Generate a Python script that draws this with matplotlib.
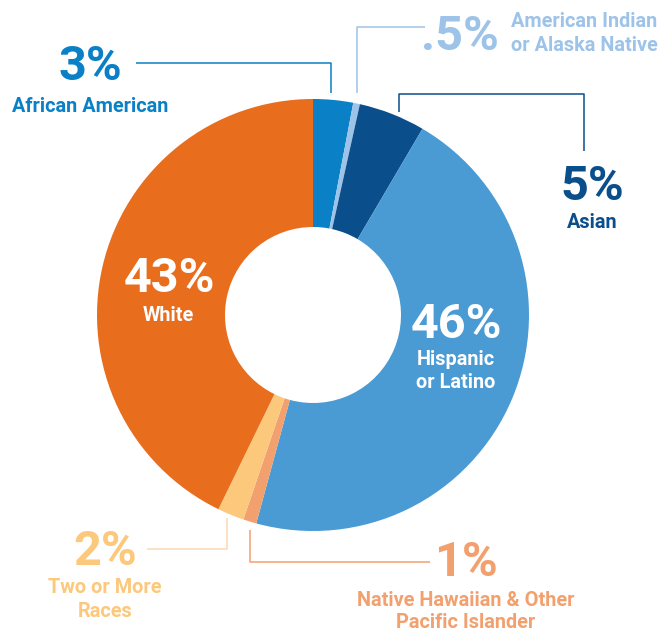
import matplotlib
matplotlib.use('Agg')
import matplotlib.pyplot as plt

plt.rcParams['font.family'] = ['Roboto', 'DejaVu Sans']

W, H = 661, 631

groups = ['African American', 'American Indian or Alaska Native', 'Asian',
          'Hispanic or Latino', 'Native Hawaiian & Other Pacific Islander',
          'Two or More Races', 'White']
shares = [3, 0.5, 5, 46, 1, 2, 43]
pct_labels = ['3%', '.5%', '5%', '46%', '1%', '2%', '43%']
name_lines = [['African American'], ['American Indian', 'or Alaska Native'], ['Asian'],
              ['Hispanic', 'or Latino'], ['Native Hawaiian & Other', 'Pacific Islander'],
              ['Two or More', 'Races'], ['White']]
colors = ['#0a80c6', '#9dc3e8', '#0a4f8c', '#4a9ad4', '#f2a06e', '#fcc87c', '#e86e1e']


def py(y):
    # pixel row (from top) -> data y
    return H - y


fig = plt.figure(figsize=(W / 100, H / 100), dpi=100)
ax = fig.add_axes([0, 0, 1, 1])

ax.pie(shares, colors=colors, startangle=90, counterclock=False,
       center=(313, py(315)), radius=216,
       wedgeprops=dict(width=216 - 88, linewidth=0))
ax.set_xlim(0, W)
ax.set_ylim(0, H)
ax.set_aspect('equal')
ax.axis('off')

big = 35
small = 14.3

# leader lines (pixel coords)
leaders = [
    ([136, 331, 331], [63, 63, 93], '#0a80c6'),
    ([425, 357, 357], [27, 27, 93], '#9dc3e8'),
    ([399, 399, 584, 584], [112, 94, 94, 151], '#0a4f8c'),
    ([147, 227, 227], [549, 549, 518], '#fcd8b6'),
    ([250, 250, 430], [530, 562, 562], '#f2a06e'),
]
for xs, ys, c in leaders:
    ax.plot(xs, [py(v) for v in ys], color=c, lw=1.1, solid_capstyle='butt')

# (pct x, pct baseline, ha, name x, name baselines)
pos = [
    (90, 80, 'center', 90, [112]),
    (421, 50, 'left', 511, [27, 51]),
    (592, 200, 'center', 592, [228]),
    (456, 338, 'center', 456, [365, 388]),
    (466, 576, 'center', 466, [606, 628]),
    (105, 565, 'center', 105, [593, 617]),
    (169, 292, 'center', 168, [321]),
]
inside = [False, False, False, True, False, False, True]

for i in range(len(groups)):
    x, yb, ha, xn, ylines = pos[i]
    c = 'white' if inside[i] else colors[i]
    ax.text(x, py(yb), pct_labels[i], color=c, fontsize=big, fontweight='bold',
            ha=ha, va='baseline')
    for line, yl in zip(name_lines[i], ylines):
        ax.text(xn, py(yl), line, color=c, fontsize=small, fontweight='bold',
                ha=ha, va='baseline')

fig.savefig('out.png', dpi=100)
